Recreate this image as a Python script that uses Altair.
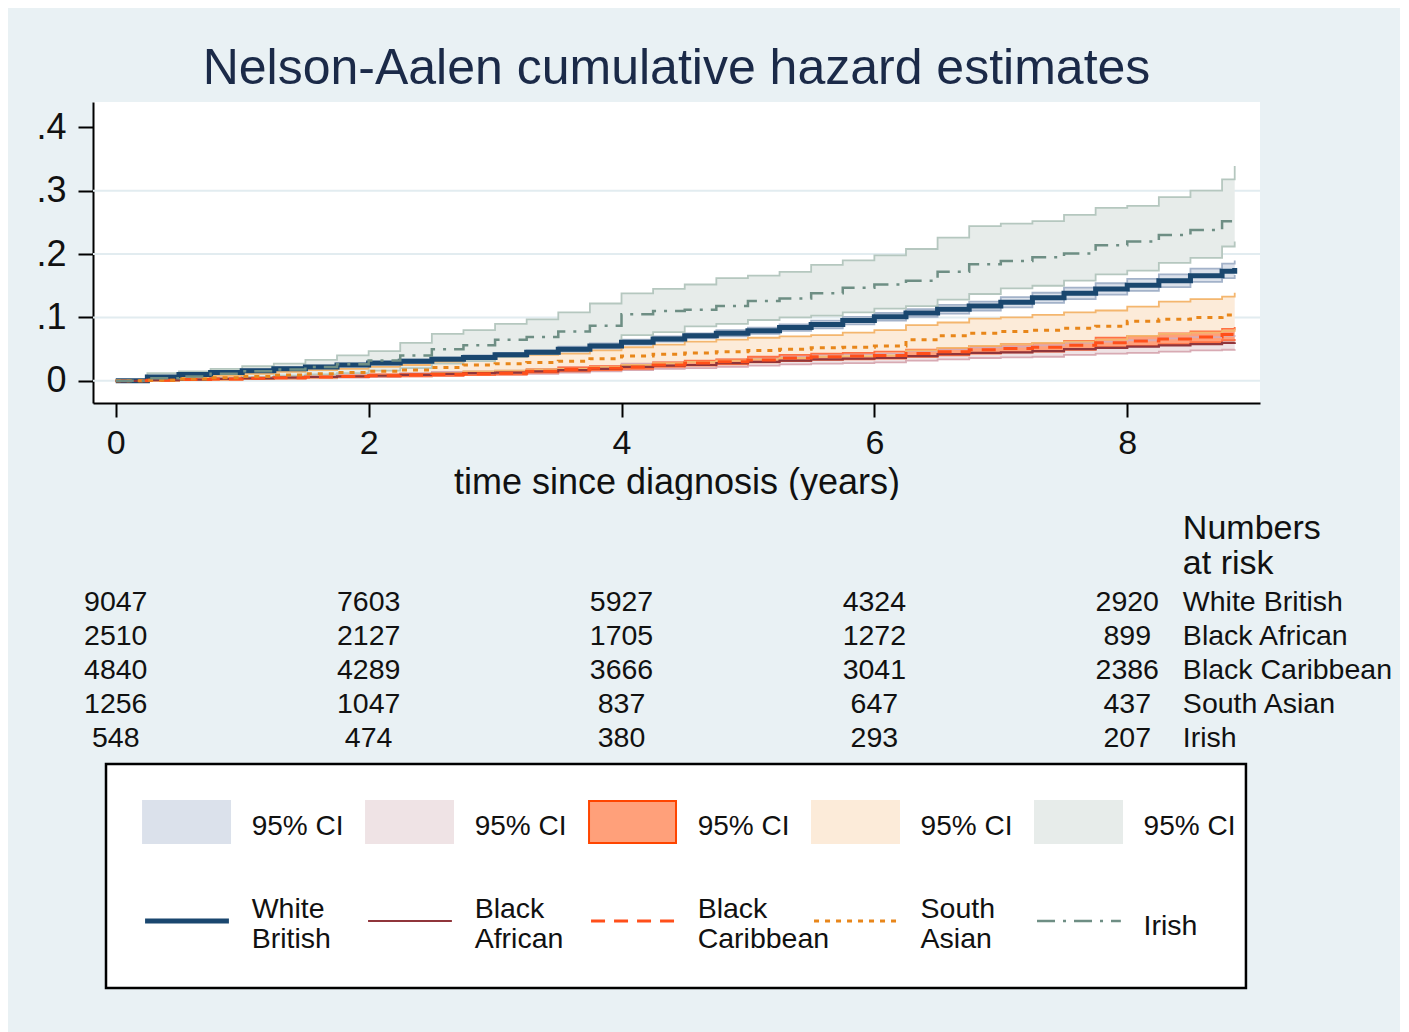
import altair as alt
import pandas as pd

# ---------------- data ----------------
groups = ["White British", "Black African", "Black Caribbean", "South Asian", "Irish"]

times = [0, 0.25, 0.5, 0.75, 1.0, 1.25, 1.5, 1.75, 2.0, 2.25,
         2.5, 2.75, 3.0, 3.25, 3.5, 3.75, 4.0, 4.25, 4.5, 4.75,
         5.0, 5.25, 5.5, 5.75, 6.0, 6.25, 6.5, 6.75, 7.0, 7.25,
         7.5, 7.75, 8.0, 8.25, 8.5, 8.75, 8.85]

wb_est = [0.000, 0.006, 0.010, 0.013, 0.016, 0.019, 0.022, 0.025, 0.028, 0.031,
          0.034, 0.037, 0.041, 0.045, 0.050, 0.055, 0.061, 0.066, 0.071, 0.075,
          0.079, 0.084, 0.089, 0.095, 0.101, 0.107, 0.113, 0.118, 0.124, 0.131,
          0.138, 0.145, 0.151, 0.158, 0.166, 0.173, 0.178]
wb_hi = [0.000, 0.007, 0.011, 0.015, 0.018, 0.021, 0.024, 0.027, 0.030, 0.034,
         0.037, 0.040, 0.044, 0.048, 0.054, 0.059, 0.065, 0.070, 0.075, 0.080,
         0.084, 0.089, 0.095, 0.101, 0.107, 0.113, 0.120, 0.125, 0.132, 0.139,
         0.147, 0.154, 0.161, 0.168, 0.177, 0.185, 0.190]
wb_lo = [0.000, 0.005, 0.009, 0.011, 0.014, 0.017, 0.020, 0.023, 0.026, 0.028,
         0.031, 0.034, 0.038, 0.042, 0.046, 0.051, 0.057, 0.062, 0.067, 0.070,
         0.074, 0.079, 0.083, 0.089, 0.095, 0.101, 0.106, 0.111, 0.116, 0.123,
         0.129, 0.136, 0.142, 0.148, 0.156, 0.162, 0.167]

ba_est = [0.000, 0.001, 0.002, 0.003, 0.004, 0.005, 0.006, 0.007, 0.008, 0.0095,
          0.011, 0.012, 0.013, 0.015, 0.017, 0.019, 0.022, 0.024, 0.025, 0.028,
          0.030, 0.032, 0.034, 0.035, 0.036, 0.039, 0.042, 0.044, 0.045, 0.047,
          0.050, 0.052, 0.054, 0.056, 0.058, 0.060, 0.061]
ba_hi = [0.000, 0.002, 0.003, 0.004, 0.005, 0.007, 0.008, 0.009, 0.010, 0.012,
         0.014, 0.015, 0.016, 0.019, 0.021, 0.023, 0.027, 0.029, 0.031, 0.034,
         0.036, 0.039, 0.041, 0.042, 0.043, 0.047, 0.050, 0.053, 0.054, 0.056,
         0.060, 0.062, 0.064, 0.067, 0.069, 0.071, 0.072]
ba_lo = [0.000, 0.0005, 0.001, 0.002, 0.003, 0.003, 0.004, 0.005, 0.006, 0.007,
         0.008, 0.009, 0.010, 0.011, 0.013, 0.015, 0.017, 0.019, 0.020, 0.022,
         0.024, 0.026, 0.027, 0.028, 0.029, 0.032, 0.034, 0.036, 0.037, 0.038,
         0.041, 0.043, 0.044, 0.046, 0.048, 0.049, 0.050]

bc_est = [0.000, 0.001, 0.002, 0.003, 0.004, 0.005, 0.006, 0.007, 0.008, 0.009,
          0.010, 0.011, 0.012, 0.015, 0.018, 0.020, 0.022, 0.025, 0.028, 0.030,
          0.033, 0.036, 0.038, 0.039, 0.040, 0.043, 0.046, 0.049, 0.051, 0.053,
          0.056, 0.060, 0.063, 0.066, 0.069, 0.073, 0.075]
bc_hi = [0.000, 0.002, 0.003, 0.004, 0.005, 0.006, 0.007, 0.008, 0.010, 0.011,
         0.012, 0.013, 0.014, 0.018, 0.021, 0.023, 0.025, 0.029, 0.032, 0.034,
         0.038, 0.041, 0.043, 0.044, 0.046, 0.049, 0.052, 0.055, 0.058, 0.060,
         0.063, 0.068, 0.071, 0.075, 0.078, 0.082, 0.085]
bc_lo = [0.000, 0.0005, 0.001, 0.002, 0.003, 0.004, 0.005, 0.006, 0.007, 0.007,
         0.008, 0.009, 0.010, 0.013, 0.015, 0.017, 0.019, 0.022, 0.024, 0.026,
         0.029, 0.031, 0.033, 0.034, 0.035, 0.038, 0.040, 0.043, 0.045, 0.046,
         0.049, 0.053, 0.055, 0.058, 0.061, 0.064, 0.066]

sa_est = [0.000, 0.001, 0.003, 0.005, 0.007, 0.009, 0.011, 0.013, 0.015, 0.017,
          0.021, 0.025, 0.027, 0.029, 0.031, 0.035, 0.039, 0.042, 0.044, 0.046,
          0.048, 0.050, 0.052, 0.053, 0.055, 0.065, 0.071, 0.075, 0.078, 0.080,
          0.083, 0.086, 0.094, 0.097, 0.100, 0.104, 0.108]
sa_hi = [0.000, 0.003, 0.006, 0.008, 0.011, 0.014, 0.017, 0.019, 0.022, 0.025,
         0.030, 0.035, 0.038, 0.041, 0.043, 0.048, 0.053, 0.057, 0.062, 0.065,
         0.068, 0.070, 0.072, 0.076, 0.080, 0.088, 0.092, 0.098, 0.100, 0.104,
         0.108, 0.111, 0.117, 0.125, 0.129, 0.133, 0.139]
sa_lo = [0.000, 0.0003, 0.001, 0.002, 0.003, 0.004, 0.005, 0.007, 0.008, 0.009,
         0.012, 0.015, 0.016, 0.018, 0.019, 0.022, 0.025, 0.028, 0.030, 0.032,
         0.034, 0.036, 0.038, 0.039, 0.040, 0.048, 0.052, 0.055, 0.058, 0.060,
         0.062, 0.065, 0.071, 0.074, 0.076, 0.079, 0.082]

ir_est = [0.000, 0.004, 0.007, 0.011, 0.015, 0.018, 0.022, 0.026, 0.032, 0.040,
          0.050, 0.056, 0.065, 0.069, 0.078, 0.087, 0.105, 0.110, 0.112, 0.118,
          0.126, 0.130, 0.138, 0.147, 0.152, 0.158, 0.172, 0.184, 0.189, 0.195,
          0.201, 0.214, 0.220, 0.230, 0.238, 0.252, 0.256]
ir_hi = [0.000, 0.012, 0.015, 0.019, 0.023, 0.027, 0.033, 0.040, 0.047, 0.060,
         0.074, 0.080, 0.090, 0.097, 0.108, 0.122, 0.138, 0.145, 0.152, 0.162,
         0.166, 0.172, 0.183, 0.190, 0.198, 0.208, 0.226, 0.244, 0.248, 0.252,
         0.262, 0.273, 0.276, 0.290, 0.300, 0.318, 0.339]
ir_lo = [0.000, 0.001, 0.002, 0.004, 0.006, 0.008, 0.010, 0.012, 0.016, 0.020,
         0.027, 0.031, 0.038, 0.042, 0.048, 0.055, 0.072, 0.077, 0.086, 0.090,
         0.096, 0.100, 0.103, 0.108, 0.114, 0.118, 0.128, 0.137, 0.146, 0.150,
         0.158, 0.168, 0.174, 0.186, 0.194, 0.212, 0.220]

risk_times = [0, 2, 4, 6, 8]
risk_wb = [9047, 7603, 5927, 4324, 2920]
risk_ba = [2510, 2127, 1705, 1272, 899]
risk_bc = [4840, 4289, 3666, 3041, 2386]
risk_sa = [1256, 1047, 837, 647, 437]
risk_ir = [548, 474, 380, 293, 207]

x_ticks = [0, 2, 4, 6, 8]
y_ticks = [0, 0.1, 0.2, 0.3, 0.4]
grid_vals = [0, 0.1, 0.2, 0.3]

legend_labels = ["White\nBritish", "Black\nAfrican", "Black\nCaribbean", "South\nAsian", "Irish"]

# ---------------- styles ----------------
line_colors = ["#1a476f", "#90353b", "#ff4f1a", "#e8861a", "#6e8e84"]
line_widths = [5, 2.2, 3, 3, 2.5]
line_dashes = [None, None, [14, 9], [5, 6], [18, 8, 3, 8]]
ci_fills = ["#dbe1eb", "#efe3e5", "#ffa07a", "#fcebd9", "#e7ecea"]
ci_strokes = ["#a3b2c9", "#d8aab3", "#ff7043", "#f4b66e", "#b5c7bf"]
swatch_strokes = ["#dbe1eb", "#efe3e5", "#ff4500", "#fcebd9", "#e7ecea"]

BG = "#e9f1f4"
FONT = "Liberation Sans"
NARROW = "'Liberation Sans Narrow', 'Liberation Sans', Arial, sans-serif"

series = {
    "White British": (wb_est, wb_lo, wb_hi),
    "Black African": (ba_est, ba_lo, ba_hi),
    "Black Caribbean": (bc_est, bc_lo, bc_hi),
    "South Asian": (sa_est, sa_lo, sa_hi),
    "Irish": (ir_est, ir_lo, ir_hi),
}

rows = []
for g in groups:
    est, lo, hi = series[g]
    for t, e, l, h in zip(times, est, lo, hi):
        rows.append({"group": g, "t": t, "est": e, "lo": l, "hi": h})
df = pd.DataFrame(rows)

xscale = alt.Scale(domain=[-0.18, 9.05], nice=False, zero=False)
yscale = alt.Scale(domain=[-0.035, 0.44], nice=False, zero=False)

xaxis = alt.Axis(values=x_ticks, labelFont=NARROW, labelFontSize=34, labelColor="#111111",
                 labelPadding=9, labelFlush=False, tickSize=14, tickWidth=2, tickColor="black",
                 domainColor="black", domainWidth=2, grid=False,
                 title="time since diagnosis (years)", titleFont=FONT, titleFontSize=36,
                 titleFontWeight="normal", titleColor="#111111", titlePadding=5)
yaxis = alt.Axis(values=y_ticks,
                 labelExpr="datum.value == 0 ? '0' : '.' + round(datum.value * 10)",
                 labelFont=NARROW, labelFontSize=36, labelColor="#111111", labelPadding=12,
                 tickSize=15, tickWidth=2, tickColor="black", domainColor="black",
                 domainWidth=2, grid=False, title=None)

X = alt.X("t:Q", scale=xscale, axis=xaxis)

grid = alt.Chart(pd.DataFrame({"gy": grid_vals})).mark_rule(
    color="#e2ecf0", strokeWidth=2).encode(y=alt.Y("gy:Q", scale=yscale, axis=yaxis))

areas, ci_lines, est_lines = [], [], []
for i, g in enumerate(groups):
    sub = alt.Chart(df).transform_filter(alt.datum.group == g)
    areas.append(sub.mark_area(interpolate="step-after", color=ci_fills[i], opacity=1).encode(
        x=X, y=alt.Y("lo:Q", scale=yscale, axis=yaxis), y2="hi:Q"))
    for col in ["lo", "hi"]:
        ci_lines.append(sub.mark_line(interpolate="step-after", color=ci_strokes[i],
                                      strokeWidth=1.8).encode(
            x=X, y=alt.Y(f"{col}:Q", scale=yscale, axis=yaxis)))
    kw = dict(interpolate="step-after", color=line_colors[i], strokeWidth=line_widths[i])
    if line_dashes[i] is not None:
        kw["strokeDash"] = line_dashes[i]
    est_lines.append(sub.mark_line(**kw).encode(
        x=X, y=alt.Y("est:Q", scale=yscale, axis=yaxis)))

main = alt.layer(grid, *areas, *ci_lines, *est_lines).properties(
    width=1167, height=301,
    view=alt.ViewBackground(fill="white", strokeWidth=0),
    title=alt.TitleParams("Nelson-Aalen cumulative hazard estimates", font=FONT, fontSize=50,
                          fontWeight="normal", color="#1b2a48", anchor="middle",
                          frame="group", offset=8),
)

# ---------------- numbers at risk + legend panel ----------------
H2 = 494
pyscale = alt.Scale(domain=[0, H2], reverse=True, nice=False, zero=False)
risk_all = [risk_wb, risk_ba, risk_bc, risk_sa, risk_ir]
ROW0, ROWSTEP = 102, 34.0
trows = []
for r, g in enumerate(groups):
    for t, n in zip(risk_times, risk_all[r]):
        trows.append({"tt": t, "py": ROW0 + ROWSTEP * r, "txt": str(n)})
tdf = pd.DataFrame(trows)
lab_t = 8.44
ldf = pd.DataFrame({"tt": [lab_t] * 5, "py": [ROW0 + ROWSTEP * r for r in range(5)], "txt": groups})
hdf = pd.DataFrame({"tt": [lab_t], "py": [29], "txt": ["Numbers\nat risk"]})

TX = alt.X("tt:Q", scale=xscale, axis=None)
PY = alt.Y("py:Q", scale=pyscale, axis=None)

nums = alt.Chart(tdf).mark_text(font=FONT, fontSize=28.5, color="#111111", align="center",
                                baseline="middle").encode(x=TX, y=PY, text="txt:N")
labs = alt.Chart(ldf).mark_text(font=FONT, fontSize=28.5, color="#111111", align="left",
                                baseline="middle").encode(x=TX, y=PY, text="txt:N")
head = alt.Chart(hdf).mark_text(font=FONT, fontSize=34, color="#111111", align="left",
                                baseline="middle", lineBreak="\n", lineHeight=35).encode(
    x=TX, y=PY, text="txt:N")
table = alt.layer(nums, labs, head)

lscale = alt.Scale(domain=[-0.4215, 4.812], nice=False, zero=False)
cols = list(range(5))
box = alt.Chart(pd.DataFrame({"a": [-0.3632], "b": [4.749], "y0": [264], "y1": [488]})).mark_rect(
    fill="white", stroke="black", strokeWidth=2.5).encode(
    x=alt.X("a:Q", scale=lscale, axis=None), x2="b:Q",
    y=alt.Y("y0:Q", scale=pyscale, axis=None), y2="y1:Q")
sw = pd.DataFrame({"col": cols, "fill": ci_fills, "stroke": swatch_strokes})
swatches = alt.Chart(sw).transform_calculate(a="datum.col - 0.197", b="datum.col + 0.193",
                                             y0="301", y1="343").mark_rect(strokeWidth=2).encode(
    x=alt.X("a:Q", scale=lscale, axis=None), x2="b:Q",
    y=alt.Y("y0:Q", scale=pyscale, axis=None), y2="y1:Q",
    fill=alt.Fill("fill:N", scale=None), stroke=alt.Stroke("stroke:N", scale=None))
ci_txt = alt.Chart(pd.DataFrame({"col": cols, "txt": ["95% CI"] * 5})).transform_calculate(
    a="datum.col + 0.29", yy="327").mark_text(font=FONT, fontSize=28, color="#111111",
                                              align="left", baseline="middle").encode(
    x=alt.X("a:Q", scale=lscale, axis=None), y=alt.Y("yy:Q", scale=pyscale, axis=None),
    text="txt:N")
sym = []
for i in cols:
    kw = dict(color=line_colors[i], strokeWidth=line_widths[i])
    if line_dashes[i] is not None:
        kw["strokeDash"] = line_dashes[i]
    sym.append(alt.Chart(pd.DataFrame({"col": [i]})).transform_calculate(
        a="datum.col - 0.188", b="datum.col + 0.188", yy="421").mark_rule(**kw).encode(
        x=alt.X("a:Q", scale=lscale, axis=None), x2="b:Q",
        y=alt.Y("yy:Q", scale=pyscale, axis=None)))
lab2 = alt.Chart(pd.DataFrame({"col": cols, "txt": legend_labels, "yy": [409, 409, 409, 409, 426]})
                 ).transform_calculate(a="datum.col + 0.29").mark_text(
    font=FONT, fontSize=28.5, color="#111111", align="left", baseline="middle",
    lineBreak="\n", lineHeight=30).encode(
    x=alt.X("a:Q", scale=lscale, axis=None), y=alt.Y("yy:Q", scale=pyscale, axis=None),
    text="txt:N")
legend = alt.layer(box, swatches, ci_txt, *sym, lab2)

lower = alt.layer(table, legend).resolve_scale(x="independent").properties(
    width=1167, height=H2, view=alt.ViewBackground(fill=BG, strokeWidth=0))

chart = alt.vconcat(main, lower, spacing=0).properties(
    background=BG, padding={"left": 27, "top": 36, "right": 8, "bottom": 40}
).configure_view(strokeWidth=0)

chart.save("out.html", embed_options={"renderer": "svg", "actions": False})
